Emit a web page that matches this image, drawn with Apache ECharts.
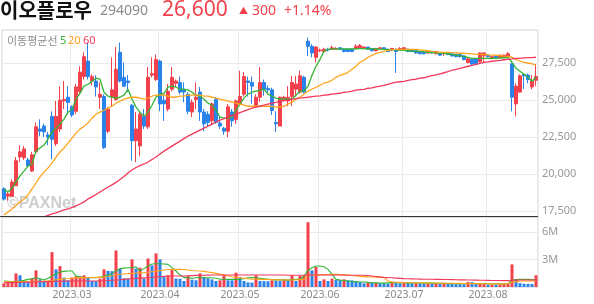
<!DOCTYPE html>
<html><head><meta charset="utf-8">
<script src="https://cdn.jsdelivr.net/npm/echarts@6/dist/echarts.min.js"></script>
<style>html,body{margin:0;padding:0;background:#fff}#c{width:594px;height:304px}</style>
</head><body><div id="c"></div>
<script>
const dates = [
'2023.02.06','2023.02.07','2023.02.08','2023.02.09','2023.02.10','2023.02.13','2023.02.14','2023.02.15','2023.02.16','2023.02.17','2023.02.20','2023.02.21','2023.02.22','2023.02.23','2023.02.24','2023.02.27','2023.02.28',
'2023.03.02','2023.03.03','2023.03.06','2023.03.07','2023.03.08','2023.03.09','2023.03.10','2023.03.13','2023.03.14','2023.03.15','2023.03.16','2023.03.17','2023.03.20','2023.03.21','2023.03.22','2023.03.23','2023.03.24','2023.03.27','2023.03.28','2023.03.29','2023.03.30','2023.03.31',
'2023.04.03','2023.04.04','2023.04.05','2023.04.06','2023.04.07','2023.04.10','2023.04.11','2023.04.12','2023.04.13','2023.04.14','2023.04.17','2023.04.18','2023.04.19','2023.04.20','2023.04.21','2023.04.24','2023.04.25','2023.04.26','2023.04.27','2023.04.28',
'2023.05.02','2023.05.03','2023.05.04','2023.05.08','2023.05.09','2023.05.10','2023.05.11','2023.05.12','2023.05.15','2023.05.16','2023.05.17','2023.05.18','2023.05.19','2023.05.22','2023.05.23','2023.05.24','2023.05.25','2023.05.26','2023.05.30','2023.05.31',
'2023.06.01','2023.06.02','2023.06.05','2023.06.07','2023.06.08','2023.06.09','2023.06.12','2023.06.13','2023.06.14','2023.06.15','2023.06.16','2023.06.19','2023.06.20','2023.06.21','2023.06.22','2023.06.23','2023.06.26','2023.06.27','2023.06.28','2023.06.29','2023.06.30',
'2023.07.03','2023.07.04','2023.07.05','2023.07.06','2023.07.07','2023.07.10','2023.07.11','2023.07.12','2023.07.13','2023.07.14','2023.07.17','2023.07.18','2023.07.19','2023.07.20','2023.07.21','2023.07.24','2023.07.25','2023.07.26','2023.07.27','2023.07.28','2023.07.31',
'2023.08.01','2023.08.02','2023.08.03','2023.08.04','2023.08.07','2023.08.08','2023.08.09','2023.08.10','2023.08.11','2023.08.14','2023.08.16','2023.08.17','2023.08.18'];

const opens = [19000,18500,18500,19200,21150,21100,20950,20200,21500,23050,
23250,22650,23900,22050,23050,24950,25200,24550,24250,25600,
26600,27650,26300,26300,25200,25250,22900,25250,25050,28250,
26550,26300,24650,22250,21900,23900,23200,26700,26400,27650,
25000,24400,25750,26150,26200,25750,25400,24200,25050,25550,
24200,24050,23600,25050,23450,23100,22900,24200,23700,24750,
25400,26300,26200,24600,25200,26200,25800,25700,23500,23250,
25050,24950,25250,25750,25550,26550,29000,28650,27900,28350,
28300,28450,28450,28450,28550,28450,28450,28450,28500,28550,
28500,28600,28500,28350,28500,28550,28450,28400,28450,28400,
28450,28450,28400,28350,28300,28250,28200,28300,28150,28200,
28150,28200,28150,28100,28100,28000,27550,27750,27800,27600,
28000,28050,27850,28000,27900,27900,27950,27450,24750,25550,
26750,26700,25900,26350];
const closes = [18300,18650,19450,20900,21500,21700,20550,21300,23200,22900,
22850,22500,22350,23900,25000,25050,24850,24000,25900,26900,
27950,26600,26600,25900,25400,21800,24400,25700,27100,26300,
25950,26200,22250,23050,24050,23250,26550,26800,27750,24750,
24750,25600,26550,26300,25550,25550,24250,24850,25200,24200,
23400,23500,24750,23500,23250,22900,24550,23600,24950,25250,
26600,26200,25950,25200,26200,25750,25700,24300,23400,25200,
25200,25200,26200,26100,26650,25550,28650,28200,28600,28400,
28450,28400,28550,28500,28450,28300,28300,28300,28650,28700,
28600,28450,28350,28500,28550,28450,28300,28500,28300,28500,
28550,28300,28300,28200,28150,28150,28300,28200,28300,28050,
28200,28100,28000,27950,27950,27750,27800,27450,27450,28200,
28200,27950,27950,27900,28050,28050,28150,25200,25950,26650,
26650,26400,26300,26600];
const lows = [18200,18200,18450,19200,20800,20950,20550,20150,21350,22550,
22500,21950,21000,21900,22850,24400,24050,23850,24050,25400,
26400,26400,26000,25250,24400,21700,22750,24600,24950,26200,
25900,25550,20900,20800,21200,23050,23050,26550,26300,24250,
23600,24250,25600,25900,25400,24850,24050,23850,24400,23600,
22900,23200,23300,23400,23050,22650,22500,23200,23400,24750,
25250,25250,24750,24550,24900,25300,25500,24000,22850,23250,
24900,24600,24600,25250,25450,25450,28000,27900,27550,28250,
28200,28300,28400,28400,28400,28250,28250,28250,28450,28500,
28450,28400,28300,28300,28450,28400,28250,28350,26850,28350,
28400,28250,28250,28150,28100,28100,28150,28150,28100,28000,
28000,28050,27950,27900,27900,27700,27500,27400,27400,27550,
27600,27900,27800,27850,27850,27850,27900,24250,23900,25500,
25750,26150,25750,25950];
const highs = [19100,18800,19650,21150,21950,21900,21100,21500,23500,23700,
23400,22850,24250,24950,25950,26300,25950,24650,26100,27300,
28250,28900,26750,26700,26200,25400,24550,27900,28600,28900,
27550,26700,24750,24200,24250,24400,27250,27900,28100,27750,
25400,26100,27250,26400,26600,26200,25550,25050,26200,25900,
24400,24250,24850,25200,23900,23200,24750,24400,25050,27000,
26900,26600,26600,25400,27250,26400,26000,25850,24250,25250,
25300,25950,26650,26650,27000,26650,29250,28800,28650,28500,
28550,28550,28700,28600,28600,28500,28500,28500,28800,28800,
28650,28600,28550,28550,28600,28600,28500,28550,28500,28600,
28600,28500,28450,28400,28350,28300,28350,28350,28350,28200,
28250,28250,28150,28100,28100,28050,27900,27800,27850,28250,
28250,28100,28000,28050,28100,28100,28250,27550,26150,26750,
26800,26800,26700,27450];

const ma5 = [18990,18780,19050,19460,19870,20200,20540,20680,21550,21760,
21960,22370,22840,23110,23380,23720,24190,24390,25070,25470,
25950,26080,26280,26490,26420,25540,25270,25200,25140,25200,
25340,25740,25070,24530,24190,23920,24190,24660,25200,25410,
25470,25880,25950,25880,25740,25740,25680,25540,25340,25270,
25070,24800,24660,24320,23850,23780,23780,23850,24320,24730,
25140,25410,25540,25610,25680,25740,25410,25270,25140,25070,
25070,25070,25070,25340,25610,25610,25950,26690,27300,27770,
28310,28450,28480,28480,28480,28480,28470,28470,28480,28500,
28500,28490,28480,28470,28460,28450,28430,28420,28410,28400,
28380,28360,28340,28330,28310,28280,28250,28240,28210,28190,
28180,28140,28110,28060,28010,27970,27900,27840,27840,27840,
27840,27840,27850,27840,27860,27870,27900,27570,27160,26960,
26760,26550,26280,26550];
const ma20 = [17230,17430,17630,17900,18110,18310,18580,18990,19390,19800,
20130,20410,20740,21150,21490,21760,22090,22430,22770,23040,
23240,23450,23780,24050,24190,24320,24460,24590,24800,24930,
25070,25140,25200,25200,25140,25070,25140,25270,25340,25340,
25340,25270,25200,25200,25270,25270,25340,25340,25340,25340,
25270,25270,25200,25140,25070,25000,24930,24870,24800,24730,
24660,24590,24590,24590,24590,24590,24590,24590,24530,24530,
24590,24730,24870,25070,25200,25410,25610,25740,25880,26010,
26150,26220,26350,26550,26690,26760,26890,27100,27300,27570,
27700,27910,28040,28180,28240,28310,28380,28410,28450,28450,
28450,28450,28450,28450,28410,28380,28350,28310,28280,28260,
28240,28240,28220,28210,28180,28180,28160,28140,28110,28110,
28090,28070,28060,28040,28020,27990,27970,27910,27770,27640,
27570,27520,27470,27370];
const ma60 = [null,null,null,null,null,null,null,null,null,null,
17090,17200,17300,17360,17470,17570,17630,17740,17840,17970,
18110,18310,18450,18610,18780,18950,19120,19260,19430,19630,
19830,20070,20270,20440,20570,20680,20810,20980,21150,21350,
21550,21720,21890,22060,22230,22400,22570,22700,22840,22970,
23110,23240,23380,23510,23650,23750,23850,23950,24050,24160,
24260,24360,24460,24530,24590,24660,24730,24800,24860,24930,
24970,25000,25070,25100,25140,25170,25200,25240,25270,25300,
25340,25370,25410,25440,25470,25540,25570,25610,25680,25710,
25740,25810,25840,25910,25950,26010,26080,26150,26220,26250,
26280,26350,26390,26420,26490,26520,26590,26660,26720,26790,
26860,26930,27030,27090,27160,27230,27300,27360,27430,27500,
27570,27600,27640,27670,27700,27740,27770,27800,27840,27840,
27870,27890,27890,27910];

const volumeM = [0.40,0.42,0.45,1.48,1.27,0.66,0.64,0.94,1.81,0.83,
0.65,0.67,3.79,1.92,2.27,1.02,0.73,1.02,1.17,1.19,
1.27,1.02,0.66,0.64,0.91,1.92,1.75,1.72,3.97,1.99,
0.95,0.93,3.00,2.00,2.10,0.91,3.10,2.35,3.65,3.00,
1.08,1.27,1.84,0.92,0.90,0.65,1.19,0.80,0.73,1.48,
1.08,0.94,0.83,0.65,0.73,1.27,0.73,0.72,1.56,1.08,
0.65,0.50,0.48,1.27,0.65,0.64,0.62,0.73,0.70,0.69,
0.83,0.73,1.27,0.65,1.20,1.22,7.04,1.81,2.17,0.65,
0.83,0.65,0.91,0.76,0.73,0.83,0.73,0.72,0.65,0.54,
0.40,0.47,0.46,0.48,0.40,0.39,0.38,0.55,0.47,0.40,
0.47,0.46,0.40,0.41,0.40,0.39,0.42,0.38,0.40,0.36,
0.38,0.33,0.32,0.31,0.30,0.29,0.54,0.53,0.40,0.41,
0.42,0.25,0.27,0.26,0.28,0.33,0.40,2.46,0.83,0.42,
0.35,0.34,0.33,1.27];
const volMa5M = [0.65,0.62,0.58,0.60,0.65,0.72,0.83,0.90,1.00,0.90,
0.76,0.95,1.20,1.45,1.63,1.70,1.74,1.74,1.20,1.10,
1.02,1.02,1.02,1.02,1.05,1.20,1.30,1.45,1.74,1.99,
2.05,2.10,2.10,2.20,1.74,2.00,2.28,2.50,2.53,2.53,
2.50,2.46,2.10,1.74,1.30,1.02,1.02,0.95,1.00,1.02,
1.00,1.00,1.00,0.95,0.85,0.85,0.83,0.83,0.83,0.85,
0.90,1.00,1.02,1.00,0.95,0.90,0.85,0.80,0.80,0.78,
0.75,0.75,0.80,0.83,0.83,1.20,1.80,2.10,2.28,2.28,
2.21,1.92,1.38,0.83,0.75,0.70,0.65,0.60,0.58,0.55,
0.55,0.50,0.47,0.45,0.42,0.42,0.45,0.47,0.47,0.47,
0.47,0.45,0.43,0.43,0.43,0.43,0.42,0.42,0.40,0.40,
0.38,0.37,0.36,0.36,0.35,0.35,0.36,0.38,0.38,0.38,
0.38,0.37,0.35,0.34,0.34,0.35,0.36,0.76,0.80,0.83,
0.83,0.83,0.80,0.76];
const volMa20M = [0.60,0.58,0.57,0.56,0.56,0.57,0.58,0.60,0.62,0.63,
0.65,0.68,0.72,0.78,0.83,0.88,0.92,0.97,1.00,1.02,
1.02,1.02,1.03,1.05,1.07,1.09,1.15,1.22,1.30,1.38,
1.42,1.45,1.50,1.52,1.54,1.56,1.60,1.66,1.72,1.78,
1.84,1.90,1.92,1.92,1.92,1.90,1.85,1.80,1.76,1.74,
1.70,1.63,1.56,1.48,1.40,1.30,1.20,1.12,1.05,1.00,
0.95,0.90,0.86,0.84,0.83,0.83,0.82,0.80,0.78,0.77,
0.76,0.76,0.76,0.78,0.80,0.85,1.25,1.28,1.32,1.34,
1.35,1.36,1.38,1.37,1.35,1.32,1.29,1.25,1.20,1.16,
1.13,1.10,1.08,1.06,1.04,1.02,0.65,0.56,0.52,0.50,
0.48,0.47,0.47,0.46,0.46,0.45,0.44,0.43,0.43,0.42,
0.42,0.41,0.40,0.40,0.39,0.38,0.38,0.37,0.37,0.36,
0.35,0.35,0.34,0.34,0.34,0.34,0.35,0.52,0.58,0.62,
0.65,0.65,0.65,0.65];
const volMa60M = [0.47,0.48,0.49,0.50,0.51,0.52,0.53,0.55,0.56,0.57,
0.58,0.59,0.61,0.62,0.63,0.64,0.65,0.65,0.65,0.65,
0.65,0.65,0.65,0.65,0.65,0.68,0.70,0.73,0.76,0.79,
0.83,0.87,0.90,0.93,0.96,0.99,1.01,1.04,1.08,1.12,
1.16,1.20,1.20,1.20,1.20,1.20,1.22,1.24,1.26,1.27,
1.28,1.29,1.30,1.30,1.30,1.30,1.30,1.30,1.30,1.30,
1.30,1.30,1.30,1.30,1.30,1.30,1.30,1.30,1.30,1.30,
1.30,1.28,1.27,1.27,1.27,1.27,1.29,1.30,1.30,1.30,
1.30,1.30,1.30,1.30,1.30,1.30,1.28,1.28,1.28,1.28,
1.28,1.25,1.20,1.15,1.10,1.05,1.02,1.00,0.97,0.94,
0.91,0.89,0.88,0.87,0.86,0.85,0.84,0.84,0.83,0.83,
0.82,0.81,0.80,0.79,0.78,0.77,0.76,0.76,0.75,0.74,
0.73,0.72,0.71,0.70,0.70,0.69,0.69,0.74,0.75,0.76,
0.76,0.76,0.76,0.76];

const priceTicks = [17500, 20000, 22500, 25000, 27500];
const volumeTicks = [3000000, 6000000];

const RED = '#f2404c', BLUE = '#2a83ea';
const C5 = '#33b533', C20 = '#ffa41c', C60 = '#f2385a';
const FONT = "'Noto Sans', 'Noto Sans CJK KR', sans-serif";
const KFONT = "'Noto Sans CJK KR', 'Noto Sans', sans-serif";

const monthStart = new Set();
dates.forEach((d, i) => { if (i > 0 && d.slice(0, 7) !== dates[i - 1].slice(0, 7)) monthStart.add(i); });
const showMonth = (idx) => monthStart.has(idx);

const candleData = dates.map((d, i) => [opens[i], closes[i], lows[i], highs[i]]);
const volData = volumeM.map((v, i) => ({
  value: v * 1e6,
  itemStyle: { color: (i === 0 || v >= volumeM[i - 1]) ? RED : BLUE }
}));
const toM = a => a.map(v => v * 1e6);

const chart = echarts.init(document.getElementById('c'), null, { renderer: 'canvas' });
const splitX = { show: true, interval: showMonth, lineStyle: { color: '#ebebeb', width: 1 } };
const lineS = (name, data, color, xi, yi, w) => ({
  name, type: 'line', data, xAxisIndex: xi, yAxisIndex: yi, symbol: 'none', silent: true,
  lineStyle: { color, width: w }, itemStyle: { color }, z: 3, animation: false
});

chart.setOption({
  animation: false,
  backgroundColor: '#fff',
  grid: [
    { left: 2, top: 30, width: 536, height: 187, show: true, borderColor: '#d4d4d4', borderWidth: 1 },
    { left: 2, top: 217, width: 536, height: 70, show: true, borderColor: '#d4d4d4', borderWidth: 1 }
  ],
  xAxis: [
    { type: 'category', gridIndex: 0, data: dates, boundaryGap: true,
      axisLine: { show: false }, axisTick: { show: false }, axisLabel: { show: false }, splitLine: splitX },
    { type: 'category', gridIndex: 1, data: dates, boundaryGap: true,
      axisLine: { show: false }, axisTick: { show: false },
      axisLabel: { show: true, interval: showMonth, formatter: v => v.slice(0, 7), color: '#8a8a8a',
        fontSize: 10.5, fontFamily: FONT, margin: 3 },
      splitLine: splitX }
  ],
  yAxis: [
    { type: 'value', gridIndex: 0, position: 'right', min: 17087, max: 29756, scale: true,
      axisLine: { show: false }, axisTick: { show: false, customValues: priceTicks },
      axisLabel: { customValues: priceTicks, formatter: v => v.toLocaleString('en-US'), color: '#999',
        fontSize: 11, fontFamily: FONT, margin: 4 },
      splitLine: { show: true, lineStyle: { color: '#ebebeb' } } },
    { type: 'value', gridIndex: 1, position: 'right', min: 0, max: 7610000,
      axisLine: { show: false }, axisTick: { show: false, customValues: volumeTicks },
      axisLabel: { customValues: volumeTicks, formatter: v => (v / 1e6) + 'M', color: '#999',
        fontSize: 11, fontFamily: FONT, margin: 4 },
      splitLine: { show: true, lineStyle: { color: '#ebebeb' } } }
  ],
  series: [
    { name: 'price', type: 'candlestick', data: candleData, xAxisIndex: 0, yAxisIndex: 0, barWidth: 3,
      itemStyle: { color: RED, color0: BLUE, borderColor: RED, borderColor0: BLUE, borderWidth: 1 }, z: 2 },
    lineS('MA5', ma5, C5, 0, 0, 1.3),
    lineS('MA20', ma20, C20, 0, 0, 1.3),
    lineS('MA60', ma60, C60, 0, 0, 1.3),
    { name: 'volume', type: 'bar', data: volData, xAxisIndex: 1, yAxisIndex: 1, barWidth: 3, z: 2 },
    lineS('VMA5', toM(volMa5M), C5, 1, 1, 1.1),
    lineS('VMA20', toM(volMa20M), C20, 1, 1, 1.1),
    lineS('VMA60', toM(volMa60M), C60, 1, 1, 1.1)
  ],
  graphic: [
    { type: 'line', shape: { x1: 0, y1: 216.5, x2: 538, y2: 216.5 }, style: { stroke: '#333', lineWidth: 1 }, z: 50 },
    { type: 'text', left: 7, top: 196, z: 1, style: { text: '©PAXNet', font: "bold 16px 'Liberation Sans', Arial, sans-serif", fill: '#bdbdbd', opacity: 0.75 } },
    { type: 'text', x: 0, y: 10.5, style: { text: '이오플로우', font: "bold 20px " + KFONT, fill: '#111', textVerticalAlign: 'middle' } },
    { type: 'text', x: 100, y: 11.5, style: { text: '294090', font: "14px " + FONT, fill: '#8c8c8c', textVerticalAlign: 'middle' } },
    { type: 'text', x: 162, y: 10.5, style: { text: '26,600', font: "21px " + FONT, fill: RED, textVerticalAlign: 'middle' } },
    { type: 'text', x: 239, y: 11, style: { text: '▲', font: "9px " + KFONT, fill: RED, textVerticalAlign: 'middle' } },
    { type: 'text', x: 252, y: 11.5, style: { text: '300', font: "14px " + FONT, fill: RED, textVerticalAlign: 'middle' } },
    { type: 'text', x: 284, y: 11.5, style: { text: '+1.14%', font: "14px " + FONT, fill: RED, textVerticalAlign: 'middle' } },
    { type: 'text', x: 7, y: 41, z: 60, style: { text: '이동평균선', font: "11px " + KFONT, fill: '#8c8c8c', textVerticalAlign: 'middle' } },
    { type: 'text', x: 60, y: 41, z: 60, style: { text: '5', font: "11px " + FONT, fill: C5, textVerticalAlign: 'middle' } },
    { type: 'text', x: 68, y: 41, z: 60, style: { text: '20', font: "11px " + FONT, fill: C20, textVerticalAlign: 'middle' } },
    { type: 'text', x: 83, y: 41, z: 60, style: { text: '60', font: "11px " + FONT, fill: C60, textVerticalAlign: 'middle' } }
  ]
});
</script>
</body></html>
